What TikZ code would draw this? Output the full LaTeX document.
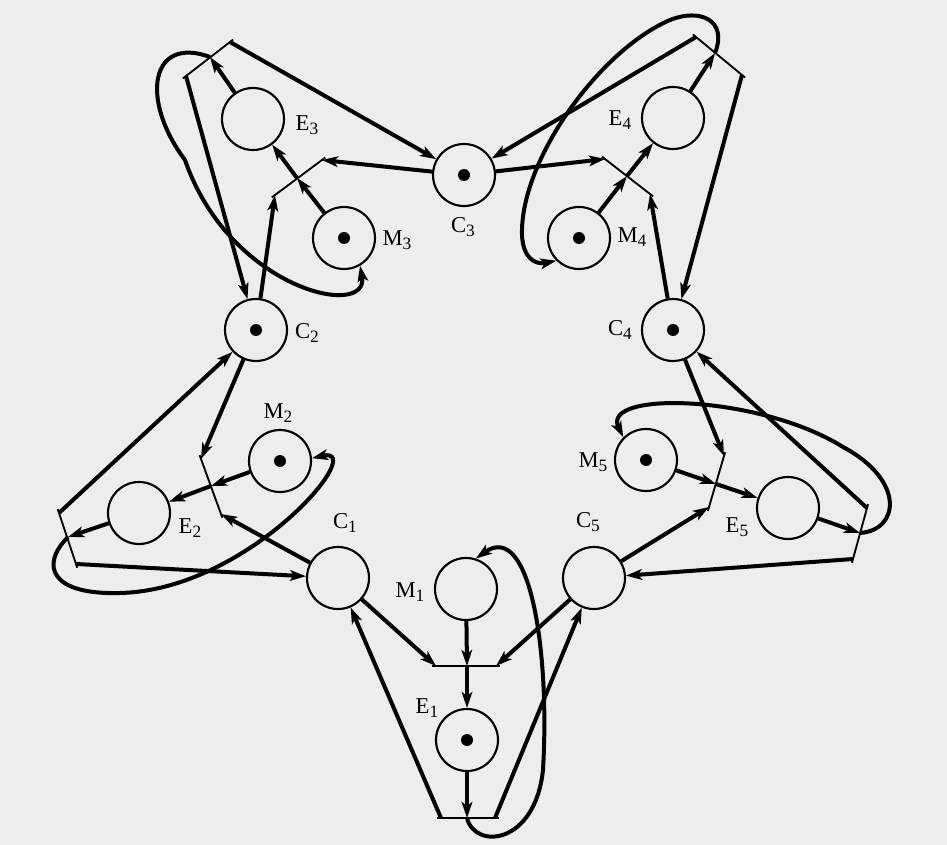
\documentclass[tikz,border=0pt]{standalone}
\usepackage{fontspec}
\setmainfont{Liberation Serif}
\usetikzlibrary{arrows.meta,calc}
\newcommand\lbl[2]{#1\raisebox{-3pt}{\fontsize{13}{13}\selectfont #2}}
\begin{document}
\begin{tikzpicture}[x=0.75pt,y=-0.75pt,
 place/.style={circle,draw,line width=1.6pt,minimum size=46.5pt,inner sep=0pt},
 token/.style={circle,fill,minimum size=9pt,inner sep=0pt},
 arc/.style={line width=3pt,-{Stealth[length=12pt,width=8pt,inset=3pt]}},
 bar/.style={line width=1.4pt,shorten <=-3pt,shorten >=-3pt},
 lab/.style={font=\fontsize{17}{20}\selectfont,inner sep=0pt}]
\fill[black!7] (0,0) rectangle (947,845);
\useasboundingbox (0,0) rectangle (947,845);
% places
\node[place] (C1) at (338,578) {};
\node[place] (C2) at (256,330) {};
\node[place] (C3) at (464,175) {};
\node[place] (C4) at (673,330) {};
\node[place] (C5) at (594,578) {};
\node[place] (E1) at (467,740) {};
\node[place] (E2) at (139,513) {};
\node[place] (E3) at (253,119) {};
\node[place] (E4) at (673,118) {};
\node[place] (E5) at (788,508) {};
\node[place] (M1) at (466,589) {};
\node[place] (M2) at (280,461) {};
\node[place] (M3) at (344,238) {};
\node[place] (M4) at (579,238) {};
\node[place] (M5) at (646,460) {};
% tokens
\node[token] (tC2) at (C2) {};
\node[token] (tC3) at (C3) {};
\node[token] (tC4) at (C4) {};
\node[token] (tE1) at (E1) {};
\node[token] (tM2) at (M2) {};
\node[token] (tM3) at (M3) {};
\node[token] (tM4) at (M4) {};
\node[token] (tM5) at (M5) {};
% labels
\node[lab] (lC1) at (345,523) {\lbl{C}{1}};
\node[lab] (lC2) at (307,333) {\lbl{C}{2}};
\node[lab] (lC3) at (463,227) {\lbl{C}{3}};
\node[lab] (lC4) at (620,330) {\lbl{C}{4}};
\node[lab] (lC5) at (588,522) {\lbl{C}{5}};
\node[lab] (lE1) at (427,708) {\lbl{E}{1}};
\node[lab] (lE2) at (190,528) {\lbl{E}{2}};
\node[lab] (lE3) at (307,125) {\lbl{E}{3}};
\node[lab] (lE4) at (620,120) {\lbl{E}{4}};
\node[lab] (lE5) at (737,527) {\lbl{E}{5}};
\node[lab] (lM1) at (410,592) {\lbl{M}{1}};
\node[lab] (lM2) at (278,413) {\lbl{M}{2}};
\node[lab] (lM3) at (397,240) {\lbl{M}{3}};
\node[lab] (lM4) at (632,237) {\lbl{M}{4}};
\node[lab] (lM5) at (593,462) {\lbl{M}{5}};
% transitions: start bars (a,b ends; m middle)
\coordinate (s1a) at (436,666); \coordinate (s1b) at (496,666); \coordinate (s1m) at (467,666);
\coordinate (s2a) at (201,459); \coordinate (s2b) at (221,514); \coordinate (s2m) at (211,486);
\coordinate (s3a) at (275,195); \coordinate (s3b) at (322,160); \coordinate (s3m) at (297,178);
\coordinate (s4a) at (605,159); \coordinate (s4b) at (650,194); \coordinate (s4m) at (627,176);
\coordinate (s5a) at (724,456); \coordinate (s5b) at (709,507); \coordinate (s5m) at (716,484);
% end bars
\coordinate (e1a) at (441,818); \coordinate (e1b) at (495,818); \coordinate (e1m) at (467,818);
\coordinate (e2a) at (59,513);  \coordinate (e2b) at (76,564);  \coordinate (e2m) at (68,537);
\coordinate (e3a) at (186,76);  \coordinate (e3b) at (230,42);  \coordinate (e3m) at (210,57);
\coordinate (e4a) at (696,37);  \coordinate (e4b) at (742,75);  \coordinate (e4m) at (715,53);
\coordinate (e5a) at (867,508); \coordinate (e5b) at (853,559); \coordinate (e5m) at (860,533);
\foreach \t in {s1,s2,s3,s4,s5,e1,e2,e3,e4,e5}{\draw[bar] (\t a) -- (\t b);}
% arm 1
\draw[arc] (C1) -- (s1a);
\draw[arc] (C5) -- (s1b);
\draw[arc] (M1) -- (s1m);
\draw[arc] (s1m) -- (E1);
\draw[arc] (E1) -- (e1m);
\draw[arc] (e1a) -- (C1);
\draw[arc] (e1b) -- (C5);
\draw[arc] (e1m) .. controls (475,850) and (535,845) .. (543,770)
  .. controls (550,650) and (530,520) .. (M1.72);
% arm 2
\draw[arc] (C2) -- (s2a);
\draw[arc] (C1) -- (s2b);
\draw[arc] (M2) -- (s2m);
\draw[arc] (s2m) -- (E2);
\draw[arc] (E2) -- (e2m);
\draw[arc] (e2a) -- (C2);
\draw[arc] (e2b) -- (C1);
\draw[arc] (e2m) .. controls (40,565) and (50,595) .. (120,593)
  .. controls (250,590) and (370,445) .. (M2.5);
% arm 3
\draw[arc] (C3) -- (s3b);
\draw[arc] (C2) -- (s3a);
\draw[arc] (M3) -- (s3m);
\draw[arc] (s3m) -- (E3);
\draw[arc] (E3) -- (e3m);
\draw[arc] (e3b) -- (C3);
\draw[arc] (e3a) -- (C2);
\draw[arc] (e3m) .. controls (150,35) and (140,100) .. (185,160)
  .. controls (230,290) and (370,320) .. (M3.-60);
% arm 4
\draw[arc] (C3) -- (s4a);
\draw[arc] (C4) -- (s4b);
\draw[arc] (M4) -- (s4m);
\draw[arc] (s4m) -- (E4);
\draw[arc] (E4) -- (e4m);
\draw[arc] (e4a) -- (C3);
\draw[arc] (e4b) -- (C4);
\draw[arc] (e4m) .. controls (728,20) and (700,8) .. (670,20)
  .. controls (600,50) and (520,160) .. (522,235)
  .. controls (523,258) and (535,265) .. (M4.225);
% arm 5
\draw[arc] (C4) -- (s5a);
\draw[arc] (C5) -- (s5b);
\draw[arc] (M5) -- (s5m);
\draw[arc] (s5m) -- (E5);
\draw[arc] (E5) -- (e5m);
\draw[arc] (e5a) -- (C4);
\draw[arc] (e5b) -- (C5);
\draw[arc] (e5m) .. controls (900,530) and (905,480) .. (843,447)
  .. controls (760,395) and (600,390) .. (M5.135);
\end{tikzpicture}
\end{document}
